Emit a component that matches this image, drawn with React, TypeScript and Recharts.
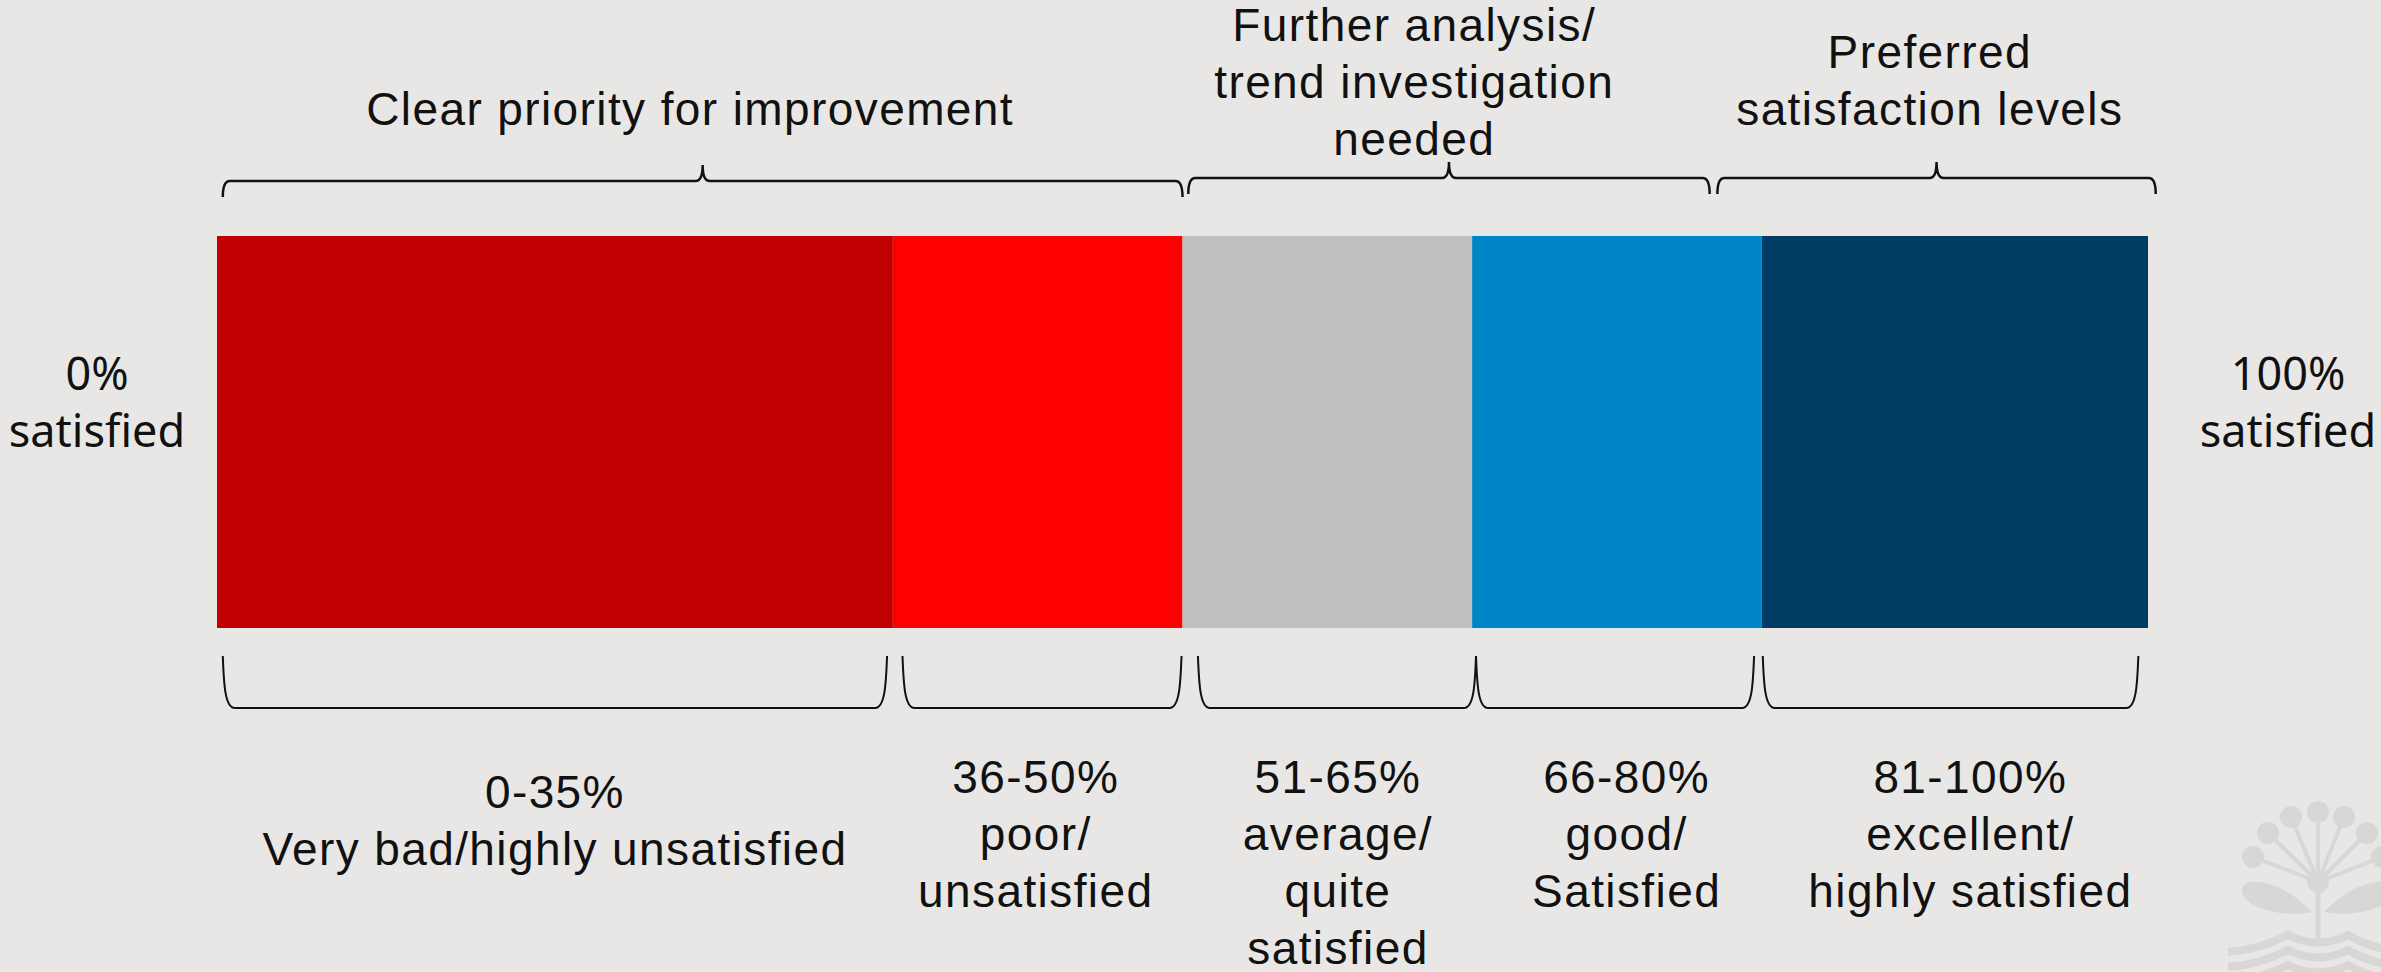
import React from 'react';
import { BarChart, Bar, XAxis, YAxis, ReferenceArea } from 'recharts';

// ---------- data ----------
const categories = ['Satisfaction'];
const segmentKeys = ['veryBad', 'poor', 'average', 'good', 'excellent'];
const segmentValues = [35, 15, 15, 15, 20];
const segmentColors = ['#C00000', '#FF0000', '#BFBFBF', '#0086C8', '#003C64'];

const topGroupStart = [0.3, 50.3, 77.7];
const topGroupEnd = [50, 77.3, 100.4];
const topGroupLabelCenter = [24.5, 62.0, 88.7];
const topGroupLabels = [
  ['Clear priority for improvement'],
  ['Further analysis/', 'trend investigation', 'needed'],
  ['Preferred', 'satisfaction levels'],
];

const bandStart = [0.3, 35.5, 50.8, 65.2, 80.05];
const bandEnd = [34.7, 49.95, 65.2, 79.6, 99.5];
const bandLabelCenter = [17.5, 42.4, 58.05, 73.0, 90.8];
const bandLabels = [
  ['0-35%', 'Very bad/highly unsatisfied'],
  ['36-50%', 'poor/', 'unsatisfied'],
  ['51-65%', 'average/', 'quite', 'satisfied'],
  ['66-80%', 'good/', 'Satisfied'],
  ['81-100%', 'excellent/', 'highly satisfied'],
];

const endLabels = [
  ['0%', 'satisfied'],
  ['100%', 'satisfied'],
];

// ---------- layout / style ----------
const W = 2381;
const H = 972;
const BG = '#E8E7E5';
const INK = '#111111';
const CONDENSED = "'Liberation Sans', Arial, sans-serif";
const PLAIN = "'Noto Sans', 'Open Sans', sans-serif";
const FS = 46;
const LS = 1.4;
const LINE = 57;
const topFirstBaselineOffset = [-111, -195, -168];
const bandFirstBaselineOffset = [180, 165, 165, 165, 165];

const chartData = categories.map((name) => {
  const row: Record<string, any> = { name };
  segmentKeys.forEach((k, i) => {
    row[k] = segmentValues[i];
  });
  return row;
});

const TopBrace = (props: any) => {
  const { x, y, width, idx } = props;
  const x1 = x;
  const x2 = x + width;
  const pxPer = width / (topGroupEnd[idx] - topGroupStart[idx]);
  const xm = (x1 + x2) / 2;
  const yLine = idx === 0 ? y - 55 : y - 58;
  const yTip = idx === 0 ? y - 39 : y - 42;
  const yPeak = yLine - 16;
  const r = 7;
  const d = `M ${x1},${yTip} Q ${x1},${yLine} ${x1 + r},${yLine} L ${xm - r},${yLine} Q ${xm},${yLine} ${xm},${yPeak} Q ${xm},${yLine} ${xm + r},${yLine} L ${x2 - r},${yLine} Q ${x2},${yLine} ${x2},${yTip}`;
  const cx = x1 + (topGroupLabelCenter[idx] - topGroupStart[idx]) * pxPer;
  const baseY = y + topFirstBaselineOffset[idx];
  return (
    <g>
      <path d={d} fill="none" stroke={INK} strokeWidth={2.5} />
      <text x={cx} y={baseY} textAnchor="middle" fontFamily={CONDENSED} fontSize={FS} letterSpacing={LS} fill={INK}>
        {topGroupLabels[idx].map((t, i) => (
          <tspan key={i} x={cx} y={baseY + i * LINE}>
            {t}
          </tspan>
        ))}
      </text>
    </g>
  );
};

const BottomBrace = (props: any) => {
  const { x, y, width, height, idx } = props;
  const x1 = x;
  const x2 = x + width;
  const pxPer = width / (bandEnd[idx] - bandStart[idx]);
  const bottom = y + height;
  const yTip = bottom + 28;
  const yLine = bottom + 80;
  const d = `M ${x1},${yTip} C ${x1 + 1},${yLine - 25} ${x1 + 2},${yLine} ${x1 + 12},${yLine} L ${x2 - 12},${yLine} C ${x2 - 2},${yLine} ${x2 - 1},${yLine - 25} ${x2},${yTip}`;
  const cx = x1 + (bandLabelCenter[idx] - bandStart[idx]) * pxPer;
  const baseY = bottom + bandFirstBaselineOffset[idx];
  return (
    <g>
      <path d={d} fill="none" stroke={INK} strokeWidth={2} />
      <text x={cx} y={baseY} textAnchor="middle" fontFamily={CONDENSED} fontSize={FS} letterSpacing={LS} fill={INK}>
        {bandLabels[idx].map((t, i) => (
          <tspan key={i} x={cx} y={baseY + i * LINE}>
            {t}
          </tspan>
        ))}
      </text>
    </g>
  );
};

const Watermark = ({ cx, cy }: { cx: number; cy: number }) => {
  const c = '#D8D7D5';
  const balls = [
    [-65, -25],
    [-50, -49],
    [-27, -65],
    [0, -70],
    [26, -65],
    [49, -49],
    [64, -25],
  ];
  return (
    <g transform={`translate(${cx},${cy})`}>
      <line x1={0} y1={0} x2={0} y2={58} stroke={c} strokeWidth={5} />
      {balls.map(([bx, by], i) => (
        <g key={i}>
          <line x1={0} y1={0} x2={bx} y2={by} stroke={c} strokeWidth={4} />
          <circle cx={bx} cy={by} r={11} fill={c} />
        </g>
      ))}
      <circle cx={0} cy={0} r={11} fill={c} />
      <path d="M -6,30 C -35,36 -76,26 -76,8 C -76,-6 -38,-4 -6,30 Z" fill={c} />
      <path d="M 6,30 C 35,36 76,26 76,8 C 76,-6 38,-4 6,30 Z" fill={c} />
      {[0, 15, 30].map((o, i) => (
        <path
          key={i}
          d={`M -90,${70 + o} Q -60,${68 + o} -30,${53 + o} Q 0,${68 + o} 30,${53 + o} Q 55,${68 + o} 90,${70 + o}`}
          fill="none"
          stroke={c}
          strokeWidth={8}
        />
      ))}
    </g>
  );
};

const EndLabels = (props: any) => {
  const { x, y, width, height } = props;
  const midY = y + height / 2;
  const lx = x - 120;
  const rx = x + width + 140;
  return (
    <g>
      {[lx, rx].map((px, j) => (
        <text key={j} x={px} y={midY - 42} textAnchor="middle" fontFamily={PLAIN} fontSize={45} fill={INK}>
          {endLabels[j].map((t, i) => (
            <tspan key={i} x={px} y={midY - 42 + i * LINE}>
              {t}
            </tspan>
          ))}
        </text>
      ))}
      <Watermark cx={x + width + 170} cy={y + height + 254} />
    </g>
  );
};

export default function App() {
  return (
    <div style={{ position: 'absolute', left: 0, top: 0, width: W, height: H, background: BG }}>
      <BarChart
        width={W}
        height={H}
        data={chartData}
        layout="vertical"
        margin={{ top: 236, right: 233, bottom: 344, left: 217 }}
        barCategoryGap={0}
        barGap={0}
      >
        <XAxis type="number" domain={[0, 100]} hide />
        <YAxis type="category" dataKey="name" hide />
        {segmentKeys.map((k, i) => (
          <Bar key={k} dataKey={k} stackId="s" fill={segmentColors[i]} isAnimationActive={false} />
        ))}
        <ReferenceArea
          x1={0}
          x2={100}
          ifOverflow="visible"
          shape={(p: any) => <EndLabels {...p} />}
        />
        {topGroupStart.map((s, i) => (
          <ReferenceArea
            key={`t${i}`}
            x1={s}
            x2={topGroupEnd[i]}
            ifOverflow="visible"
            shape={(p: any) => <TopBrace {...p} idx={i} />}
          />
        ))}
        {bandStart.map((s, i) => (
          <ReferenceArea
            key={`b${i}`}
            x1={s}
            x2={bandEnd[i]}
            ifOverflow="visible"
            shape={(p: any) => <BottomBrace {...p} idx={i} />}
          />
        ))}
      </BarChart>
    </div>
  );
}
